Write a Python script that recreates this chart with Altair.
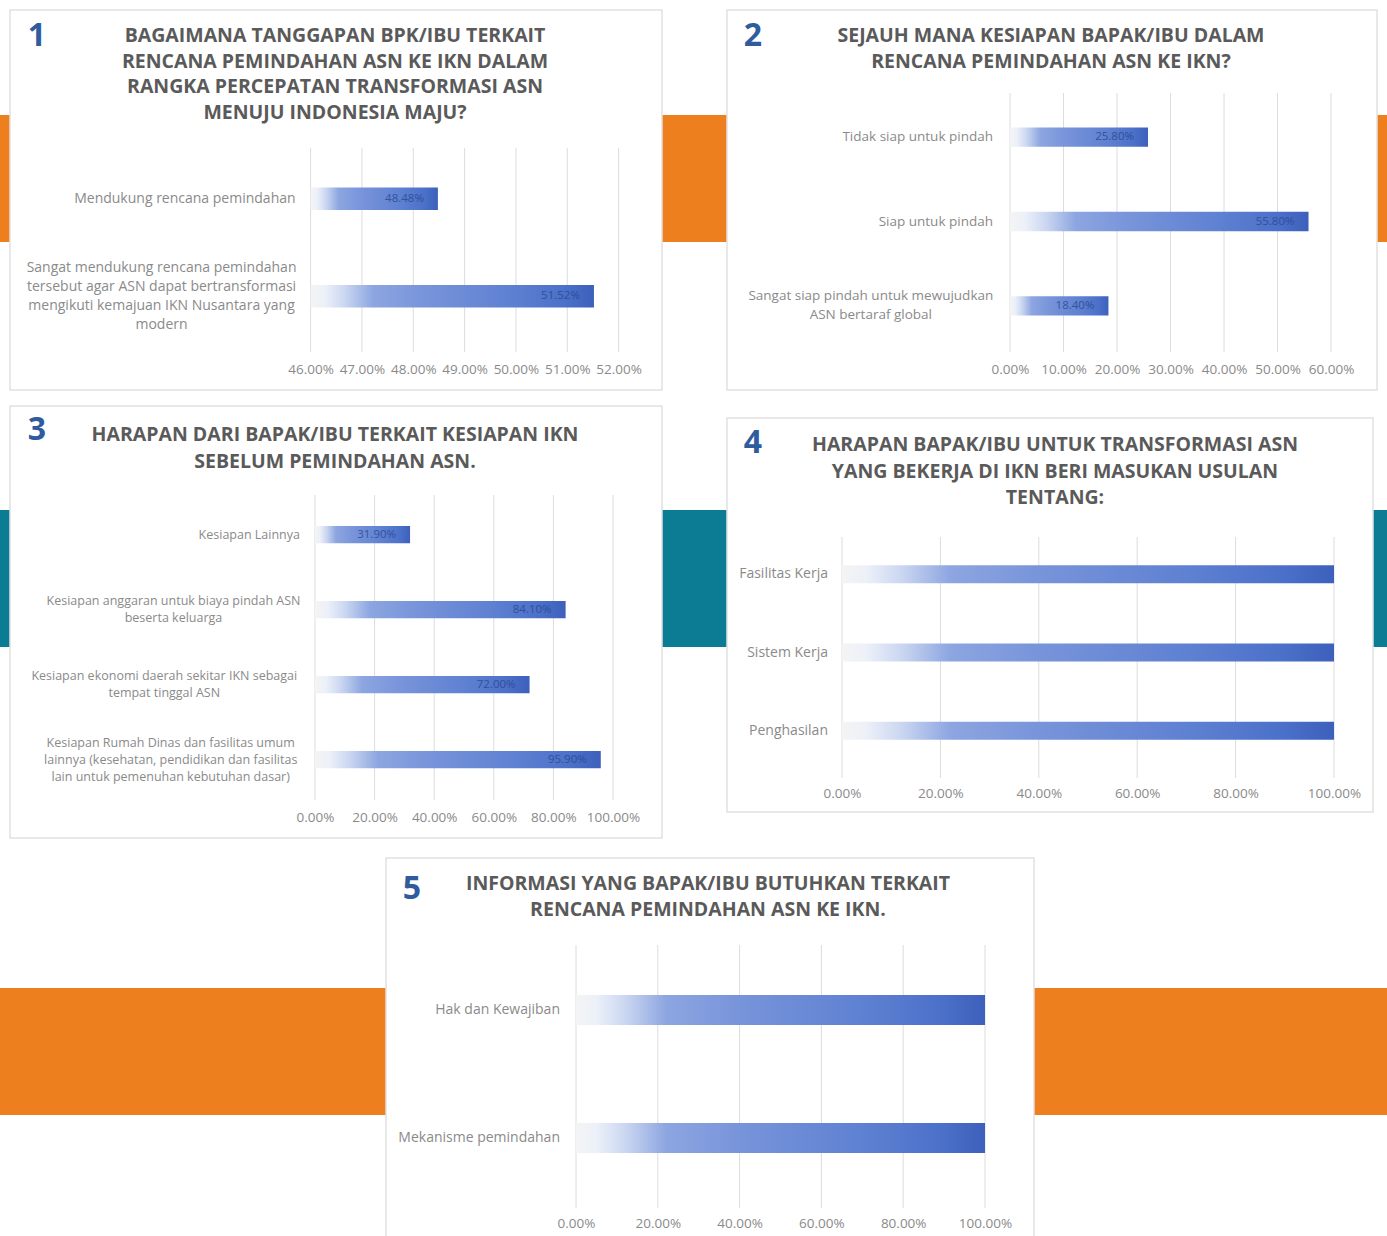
import altair as alt
import pandas as pd

W, H = 1387, 1236

# ---------------------------------------------------------------- data
q1_categories = [
    "Mendukung rencana pemindahan",
    "Sangat mendukung rencana pemindahan|tersebut agar ASN dapat bertransformasi|mengikuti kemajuan IKN Nusantara yang|modern",
]
q1_shares = [0.4848, 0.5152]
q1_ticks = [0.46, 0.47, 0.48, 0.49, 0.50, 0.51, 0.52]

q2_categories = [
    "Tidak siap untuk pindah",
    "Siap untuk pindah",
    "Sangat siap pindah untuk mewujudkan|ASN bertaraf global",
]
q2_shares = [0.2580, 0.5580, 0.1840]
q2_ticks = [0.0, 0.1, 0.2, 0.3, 0.4, 0.5, 0.6]

q3_categories = [
    "Kesiapan Lainnya",
    "Kesiapan anggaran untuk biaya pindah ASN|beserta keluarga",
    "Kesiapan ekonomi daerah sekitar IKN sebagai|tempat tinggal ASN",
    "Kesiapan Rumah Dinas dan fasilitas umum|lainnya (kesehatan, pendidikan dan fasilitas|lain untuk pemenuhan kebutuhan dasar)",
]
q3_shares = [0.3190, 0.8410, 0.7200, 0.9590]
q3_ticks = [0.0, 0.2, 0.4, 0.6, 0.8, 1.0]

q4_categories = ["Fasilitas Kerja", "Sistem Kerja", "Penghasilan"]
q4_shares = [1.0, 1.0, 1.0]
q4_ticks = [0.0, 0.2, 0.4, 0.6, 0.8, 1.0]

q5_categories = ["Hak dan Kewajiban", "Mekanisme pemindahan"]
q5_shares = [1.0, 1.0]
q5_ticks = [0.0, 0.2, 0.4, 0.6, 0.8, 1.0]

q1_title = ["BAGAIMANA TANGGAPAN BPK/IBU TERKAIT",
            "RENCANA PEMINDAHAN ASN KE IKN DALAM",
            "RANGKA PERCEPATAN TRANSFORMASI ASN",
            "MENUJU INDONESIA MAJU?"]
q2_title = ["SEJAUH MANA KESIAPAN BAPAK/IBU DALAM",
            "RENCANA PEMINDAHAN ASN KE IKN?"]
q3_title = ["HARAPAN DARI BAPAK/IBU TERKAIT KESIAPAN IKN",
            "SEBELUM PEMINDAHAN ASN."]
q4_title = ["HARAPAN BAPAK/IBU UNTUK TRANSFORMASI ASN",
            "YANG BEKERJA DI IKN BERI MASUKAN USULAN",
            "TENTANG:"]
q5_title = ["INFORMASI YANG BAPAK/IBU BUTUHKAN TERKAIT",
            "RENCANA PEMINDAHAN ASN KE IKN."]

# ---------------------------------------------------------------- style
FONT = "Open Sans"
ORANGE = "#EE7F1E"
TEAL = "#0C7C94"
CARD_EDGE = "#E1E1E1"
TITLE_GRAY = "#5A5A5A"
NUM_BLUE = "#2F5C9E"
LABEL_GRAY = "#8A8A8A"
GRID = "#DCDCDC"

bar_fill = alt.LinearGradient(
    gradient="linear",
    x1=0, x2=1, y1=0, y2=0,
    stops=[
        alt.GradientStop(offset=0.0, color="#F4F4F4"),
        alt.GradientStop(offset=0.05, color="#ECF0F8"),
        alt.GradientStop(offset=0.12, color="#CBD7F1"),
        alt.GradientStop(offset=0.22, color="#8DA6E1"),
        alt.GradientStop(offset=0.40, color="#7894DA"),
        alt.GradientStop(offset=0.70, color="#5F81D2"),
        alt.GradientStop(offset=0.90, color="#4B70C9"),
        alt.GradientStop(offset=1.0, color="#3C60BB"),
    ],
)

blank = alt.Data(values=[{}])


def block(x0, x1, y0, y1, fill, edge=None):
    props = dict(fill=fill)
    if edge:
        props.update(stroke=edge, strokeWidth=1.5)
    return alt.Chart(blank).mark_rect(**props).encode(
        x=alt.value(x0), x2=alt.value(x1), y=alt.value(y0), y2=alt.value(y1)
    )


def text_block(lines, x, y, size, color, weight="bold", line_height=26, align="center"):
    return alt.Chart(blank).mark_text(
        text=lines, font=FONT, fontSize=size, fontWeight=weight, color=color,
        align=align, baseline="top", lineHeight=line_height,
    ).encode(x=alt.value(x), y=alt.value(y))


def line_width_expr(k, size):
    """Rough rendered width of wrapped line k of a category name."""
    line = f"(split(datum.kategori, '|')[{k}] || '')"

    def count(cls):
        return f"length(replace({line}, regexp('[^{cls}]', 'g'), ''))"

    narrow = count("iljtfr ,.()")
    wide = count("mwMW")
    upper = count("A-LN-VX-Z")
    rest = f"(length({line}) - {count('iljtfr ,.()mwA-Z')})"
    return (f"{size * 1.01} * (0.30 * {narrow} + 0.86 * {wide}"
            f" + 0.62 * {upper} + 0.56 * {rest})")


def panel(cats, shares, ticks, x_rng, y_rng, grid_y, axis_y, label_pad,
          cat_size, cat_line, show_values=True, inner=0.77):
    df = pd.DataFrame({"kategori": cats, "persen": shares})
    tick_df = pd.DataFrame({"persen": ticks})
    xs = alt.Scale(domain=[ticks[0], ticks[-1]], range=list(x_rng), zero=False, nice=False)
    ys = alt.Scale(domain=cats, range=list(y_rng), paddingInner=inner, paddingOuter=inner / 2)

    x_axis = alt.Axis(
        orient="bottom", offset=axis_y - H, values=ticks, format=".2%",
        grid=False, domain=False, ticks=False, tickSize=0, labelPadding=2,
        labelFont=FONT, labelFontSize=13.5, labelColor=LABEL_GRAY,
        labelOverlap=False, labelFlush=False, title=None, zindex=2,
    )
    x_enc = alt.X("persen:Q", scale=xs, axis=x_axis, title=None)
    y_enc = alt.Y("kategori:N", scale=ys, sort=cats, axis=None)

    grid = alt.Chart(tick_df).mark_rule(color=GRID, strokeWidth=1).encode(
        x=x_enc, y=alt.value(grid_y[0]), y2=alt.value(grid_y[1]),
    )
    bars = alt.Chart(df).mark_bar(color=bar_fill).encode(
        x=x_enc, x2=alt.datum(ticks[0]), y=y_enc,
    )
    # category names: wrapped on "|", block centred on its bar, wrapped
    # lines centred within a block that ends at the axis
    names = alt.Chart(df).transform_calculate(
        nl="length(split(datum.kategori, '|'))",
        w0=line_width_expr(0, cat_size),
        w1=line_width_expr(1, cat_size),
        w2=line_width_expr(2, cat_size),
        w3=line_width_expr(3, cat_size),
    ).transform_calculate(
        wl="max(datum.w0, datum.w1, datum.w2, datum.w3)",
    ).mark_text(
        font=FONT, fontSize=cat_size, color=LABEL_GRAY,
        align=alt.ExprRef(expr="datum.nl > 1 ? 'center' : 'right'"),
        baseline="middle", lineBreak="|", lineHeight=cat_line,
        dx=alt.ExprRef(expr="datum.nl > 1 ? -datum.wl / 2 : 0"),
        dy=alt.ExprRef(expr=f"-(datum.nl - 1) * {cat_line / 2}"),
    ).encode(
        x=alt.value(x_rng[0] - label_pad), y=y_enc, text="kategori:N",
    )
    layers = [grid, bars, names]
    if show_values:
        values = alt.Chart(df).mark_text(
            font=FONT, fontSize=11.5, color="#2A478C", opacity=0.8,
            align="right", baseline="middle", dx=-14,
        ).encode(
            x=x_enc, y=y_enc,
            text=alt.Text("persen:Q", format=".2%"),
        )
        layers.append(values)
    return alt.layer(*layers)


# ---------------------------------------------------------------- backdrop
backdrop = [
    block(0, W, 115, 242, ORANGE),
    block(0, W, 510, 647, TEAL),
    block(0, W, 988, 1115, ORANGE),
    block(10, 662, 10, 390, "white", CARD_EDGE),
    block(727, 1377, 10, 390, "white", CARD_EDGE),
    block(10, 662, 406, 838, "white", CARD_EDGE),
    block(727, 1373, 418, 812, "white", CARD_EDGE),
    block(386, 1034, 858, 1250, "white", CARD_EDGE),
]

TS = 19.5
headings = [
    text_block(["1"], 37, 21, 32, NUM_BLUE),
    text_block(q1_title, 335, 27, TS, TITLE_GRAY, line_height=25.7),
    text_block(["2"], 753, 21, 32, NUM_BLUE),
    text_block(q2_title, 1051, 27, TS, TITLE_GRAY, line_height=25.7),
    text_block(["3"], 37, 415, 32, NUM_BLUE),
    text_block(q3_title, 335, 426, TS, TITLE_GRAY, line_height=27),
    text_block(["4"], 753, 428, 32, NUM_BLUE),
    text_block(q4_title, 1055, 436, TS, TITLE_GRAY, line_height=26.5),
    text_block(["5"], 412, 874, 32, NUM_BLUE),
    text_block(q5_title, 708, 875, TS, TITLE_GRAY, line_height=26),
]

panels = [
    panel(q1_categories, q1_shares, q1_ticks, (310.6, 618.6), (150, 345), (148, 352),
          360, 15, 14, 19),
    panel(q2_categories, q2_shares, q2_ticks, (1010, 1331), (95, 348), (93, 352),
          360, 17, 13.5, 19),
    panel(q3_categories, q3_shares, q3_ticks, (315, 613), (497, 797), (495, 800),
          808, 15, 12.5, 17),
    panel(q4_categories, q4_shares, q4_ticks, (842, 1334), (535, 770), (537, 778),
          784, 14, 14, 18, show_values=False),
    panel(q5_categories, q5_shares, q5_ticks, (576, 985), (946, 1202), (945, 1208),
          1214, 16, 14, 18, show_values=False, inner=0.766),
]

chart = (
    alt.layer(*backdrop, *headings, *panels)
    .resolve_scale(x="independent", y="independent")
    .resolve_axis(x="independent", y="independent")
    .properties(
        width=W, height=H, padding=0, background="white",
        autosize=alt.AutoSizeParams(type="none"),
    )
    .configure_view(stroke=None)
)

chart.save("out.html", embed_options={"renderer": "svg", "actions": False})
